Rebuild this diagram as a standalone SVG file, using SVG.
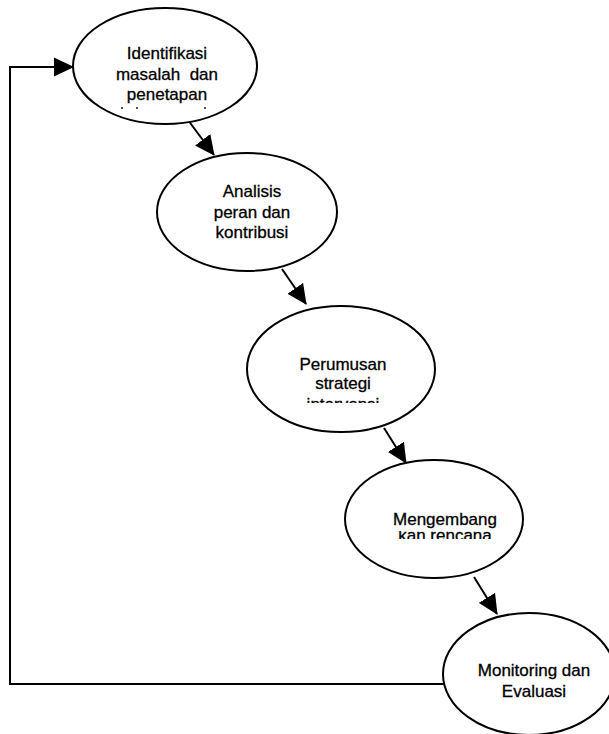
<svg xmlns="http://www.w3.org/2000/svg" width="609" height="734" viewBox="0 0 609 734">
  <style>
    .node ellipse { fill: #ffffff; stroke: #000000; stroke-width: 2; }
    .node text { font-family: "Liberation Sans", Arial, sans-serif; font-size: 17px; fill: #000000; stroke: #000000; stroke-width: 0.3; text-anchor: middle; }
    .edge { fill: none; stroke: #000000; stroke-width: 2; }
  </style>
  <defs>
    <marker id="head" viewBox="0 0 20 20" refX="19" refY="10" markerWidth="20" markerHeight="20" markerUnits="userSpaceOnUse" orient="auto">
      <path d="M0,0.5 L20,10 L0,19.5 Z" fill="#000000"/>
    </marker>
    <clipPath id="clip3"><rect x="250" y="396" width="180" height="7"/></clipPath>
    <clipPath id="clip4"><rect x="350" y="531" width="180" height="8"/></clipPath>
  </defs>

  <!-- connectors -->
  <g id="connectors">
    <line class="edge" x1="188" y1="120" x2="214" y2="155" marker-end="url(#head)"/>
    <line class="edge" x1="282" y1="269" x2="306" y2="304" marker-end="url(#head)"/>
    <line class="edge" x1="384" y1="428" x2="406" y2="463" marker-end="url(#head)"/>
    <line class="edge" x1="474" y1="577" x2="497" y2="614" marker-end="url(#head)"/>
    <polyline class="edge" points="445,684 10,684 10,67 73,67" marker-end="url(#head)"/>
  </g>

  <!-- steps -->
  <g id="step1" class="node">
    <ellipse cx="165" cy="66" rx="92" ry="58"/>
    <text x="167" y="59">Identifikasi</text>
    <text x="167" y="80" xml:space="preserve">masalah  dan</text>
    <text x="167" y="100">penetapan</text>
    <circle cx="122" cy="108" r="0.9" fill="#000"/>
    <circle cx="137" cy="108" r="0.9" fill="#000"/>
    <circle cx="205" cy="108" r="0.9" fill="#000"/>
  </g>

  <g id="step2" class="node">
    <ellipse cx="247" cy="212" rx="90" ry="59"/>
    <text x="252" y="197">Analisis</text>
    <text x="252" y="218">peran dan</text>
    <text x="252" y="238">kontribusi</text>
  </g>

  <g id="step3" class="node">
    <ellipse cx="341" cy="369" rx="94" ry="63"/>
    <text x="343" y="370">Perumusan</text>
    <text x="343" y="389">strategi</text>
    <text x="343" y="410" clip-path="url(#clip3)">intervensi</text>
  </g>

  <g id="step4" class="node">
    <ellipse cx="434" cy="519" rx="89" ry="59"/>
    <text x="445" y="525">Mengembang</text>
    <text x="445" y="541" clip-path="url(#clip4)">kan rencana</text>
  </g>

  <g id="step5" class="node">
    <ellipse cx="529" cy="674" rx="86" ry="61"/>
    <text x="534" y="676">Monitoring dan</text>
    <text x="534" y="697">Evaluasi</text>
  </g>
</svg>
